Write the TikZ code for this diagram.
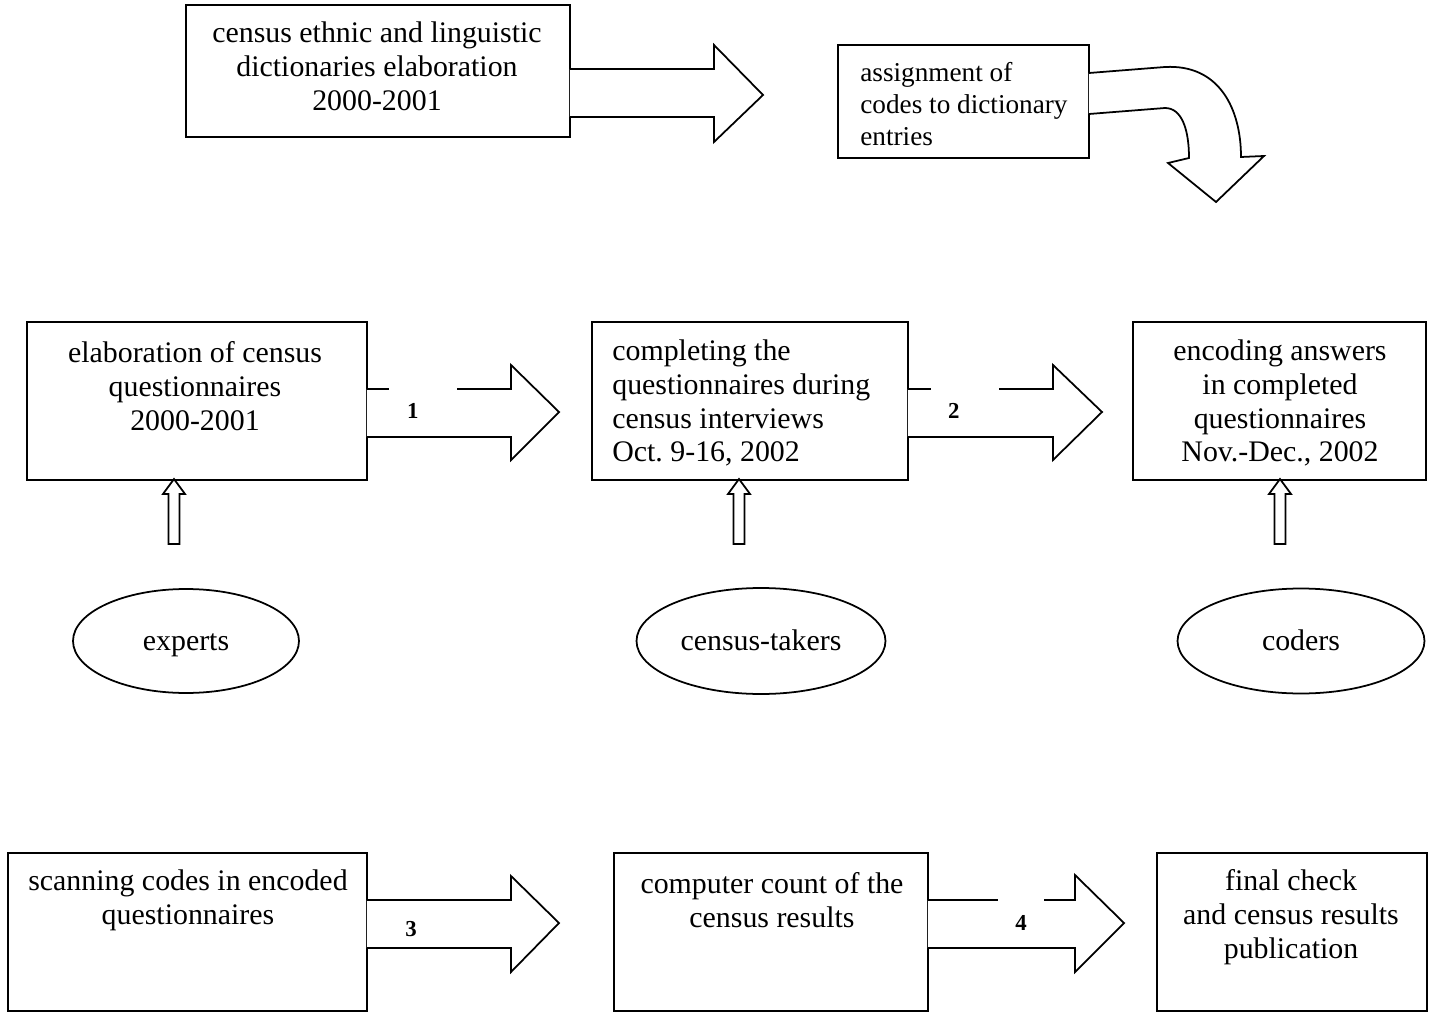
\documentclass[tikz,border=0pt]{standalone}
\usepackage{fontspec}
\setmainfont{Liberation Serif}
\usetikzlibrary{shapes.geometric, positioning, calc}

\begin{document}
\begin{tikzpicture}[x=0.02cm, y=-0.02cm,
  box/.style={draw, line width=1pt, inner sep=0pt, outer sep=0pt},
  txt/.style={font=\fontsize{17}{19.3}\selectfont, align=center, inner sep=0pt},
  smalltxt/.style={font=\fontsize{15.5}{18.1}\selectfont, align=left, inner sep=0pt},
  person/.style={draw, ellipse, line width=1pt, inner sep=0pt, text height=14.5pt, text depth=3.5pt, font=\fontsize{17}{19.3}\selectfont},
  barrow/.style={draw, line width=1pt, fill=white, line join=miter},
  num/.style={font=\fontsize{13}{15}\selectfont\bfseries, inner sep=0pt}]
  \useasboundingbox (0,0) rectangle (1429,1013);
  % Top row: dictionaries
  \node[box, minimum width=7.68cm, minimum height=2.64cm] (bA) at (378,71) {};
  \node[txt] (tA) at (377,66) {census ethnic and linguistic\\dictionaries elaboration\\2000-2001};
  \draw[barrow] (bA.east |- 0,69) -- (714,69) -- (714,45) -- (763,95) -- (714,142) -- (714,117) -- (bA.east |- 0,117);
  \node[box, minimum width=5.02cm, minimum height=2.26cm] (bB) at (963.5,101.5) {};
  \node[smalltxt, anchor=west] (tB) at (860,104) {assignment of\\codes to dictionary\\entries};
  \draw[barrow] (bB.east |- 0,73) -- (1165,67) .. controls (1220,64) and (1241,110) .. (1241,157)
    -- (1264,156) -- (1216,202) -- (1168,163) -- (1189,158)
    .. controls (1189,130) and (1182,108) .. (1165,108) -- (bB.east |- 0,114);
  % Middle row: questionnaires
  \node[box, minimum width=6.8cm, minimum height=3.16cm] (b1) at (197,401) {};
  \node[txt] (t1) at (195,386) {elaboration of census\\questionnaires\\2000-2001};
  \node[box, minimum width=6.32cm, minimum height=3.16cm] (b2) at (750,401) {};
  \node[txt, align=left, anchor=west] (t2) at (612,403) {completing the\\questionnaires during\\census interviews\\Oct.\ 9-16, 2002};
  \node[box, minimum width=5.86cm, minimum height=3.16cm] (b3) at (1279.5,401) {};
  \node[txt] (t3) at (1280,403) {encoding answers\\in completed\\questionnaires\\Nov.-Dec., 2002};
  \draw[barrow] (b1.east |- 0,389) -- (511,389) -- (511,365) -- (559,412) -- (511,460) -- (511,437) -- (b1.east |- 0,437);
  \node[num, fill=white, text width=0.64cm, inner xsep=0.36cm, minimum height=0.94cm, align=left] (n1) at (423,410.5) {1};
  \draw[barrow] (b2.east |- 0,389) -- (1053,389) -- (1053,365) -- (1102,412) -- (1053,460) -- (1053,437) -- (b2.east |- 0,437);
  \node[num, fill=white, text width=0.68cm, inner xsep=0.34cm, minimum height=0.94cm, align=left] (n2) at (965,410.5) {2};
  % Up arrows from the people
  \foreach \x in {174,739,1280}
    \draw[barrow] (\x-5.5,544) -- (\x-5.5,494) -- (\x-11,494) -- (\x,479) -- (\x+11,494) -- (\x+5.5,494) -- (\x+5.5,544) -- cycle;
  \node[person, minimum width=4.52cm, minimum height=2.08cm] (e1) at (186,641) {experts};
  \node[person, minimum width=4.98cm, minimum height=2.12cm] (e2) at (761,641) {census-takers};
  \node[person, minimum width=4.94cm, minimum height=2.1cm] (e3) at (1301,641) {coders};
  % Bottom row: processing
  \node[box, minimum width=7.18cm, minimum height=3.16cm] (b4) at (187.5,932) {};
  \node[txt] (t4) at (188,900) {scanning codes in encoded\\questionnaires};
  \node[box, minimum width=6.28cm, minimum height=3.16cm] (b5) at (771,932) {};
  \node[txt] (t5) at (772,900) {computer count of the\\census results};
  \node[box, minimum width=5.4cm, minimum height=3.16cm] (b6) at (1292,932) {};
  \node[txt] (t6) at (1291,917) {final check\\and census results\\publication};
  \draw[barrow] (b4.east |- 0,900) -- (511,900) -- (511,876) -- (559,923) -- (511,972) -- (511,948) -- (b4.east |- 0,948);
  \node[num] (n3) at (411,929) {3};
  \draw[barrow] (b5.east |- 0,900) -- (1075,900) -- (1075,875) -- (1124,923) -- (1075,972) -- (1075,948) -- (b5.east |- 0,948);
  \node[num, fill=white, minimum width=0.92cm, minimum height=0.96cm] (n4) at (1021,923) {4};
\end{tikzpicture}
\end{document}
